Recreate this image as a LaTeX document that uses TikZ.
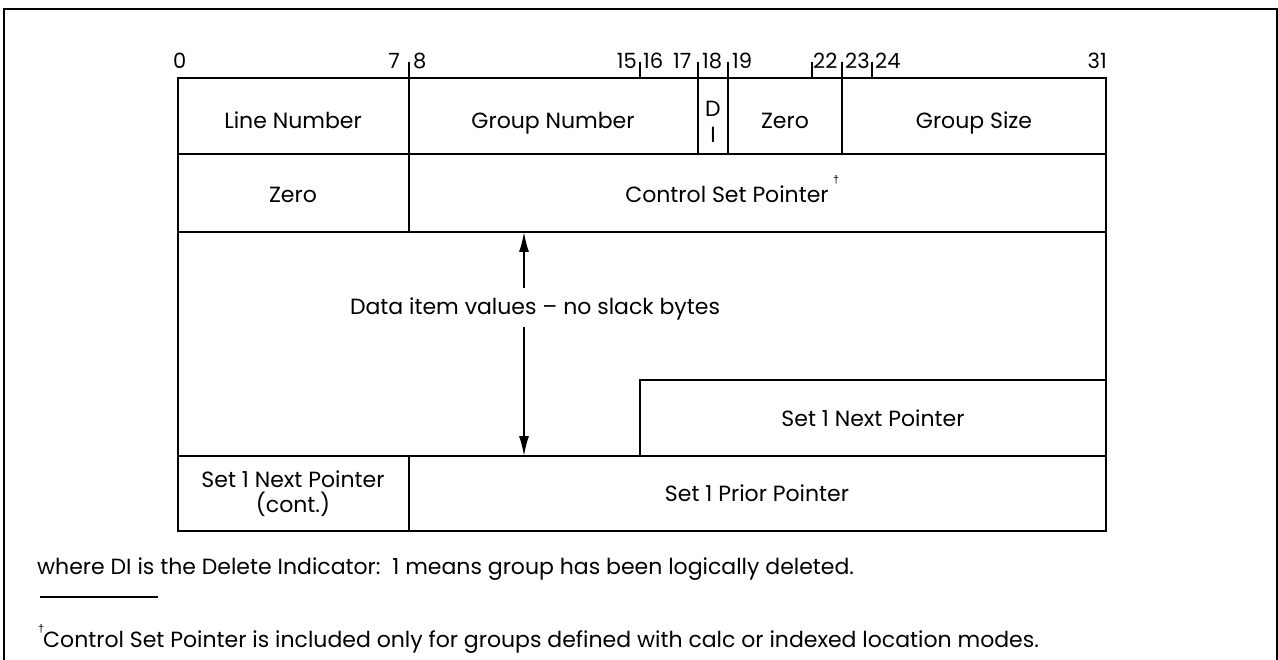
\documentclass[tikz,border=0pt]{standalone}
\usepackage{fontspec}
\setmainfont{Poppins}
\newfontfamily\dagfont{Liberation Sans}
\usetikzlibrary{arrows.meta}
\begin{document}
\begin{tikzpicture}[x=1pt,y=-1pt,
  frame/.style={line width=2.6pt},
  rule/.style={line width=2pt},
  tick/.style={line width=1.6pt},
  lbl/.style={inner sep=0pt, anchor=base, font=\fontsize{22}{25}\selectfont},
  num/.style={inner sep=0pt, font=\fontsize{21}{24}\selectfont},
  note/.style={inner sep=0pt, anchor=base west, font=\fontsize{22}{26}\selectfont},
  dag/.style={inner sep=0pt, font=\dagfont\fontsize{11}{11}\selectfont},
  arr/.style={line width=1.6pt, -{Latex[length=20pt,width=10pt]}},
]
\useasboundingbox (0,0) rectangle (1278,660);
% outer frame
\draw[frame] (4,664) -- (4,9) -- (1277,9) -- (1277,664);
% table
\draw[rule] (178,78) rectangle (1106,531);
\draw[rule] (178,154) -- (1106,154);
\draw[rule] (178,232) -- (1106,232);
\draw[rule] (178,456) -- (1106,456);
\draw[rule] (409,78) -- (409,232);
\draw[rule] (409,456) -- (409,531);
\draw[rule] (698,78) -- (698,154);
\draw[rule] (728,78) -- (728,154);
\draw[rule] (842,78) -- (842,154);
\draw[rule] (640,456) -- (640,380) -- (1106,380);
% ticks
\foreach \x in {409,640,698,728,812,842,872} \draw[tick] (\x,62) -- (\x,78);
% bit numbers
\node[num, anchor=base west] (b0)  at (173,69) {0};
\node[num, anchor=base east] (b7)  at (400,69) {7};
\node[num, anchor=base west] (b8)  at (413,69) {8};
\node[num, anchor=base east] (b15) at (637,69) {15};
\node[num, anchor=base west] (b16) at (643,69) {16};
\node[num, anchor=base west] (b17) at (673,69) {17};
\node[num, anchor=base west] (b18) at (702,69) {18};
\node[num, anchor=base west] (b19) at (732,69) {19};
\node[num, anchor=base west] (b22) at (813,69) {22};
\node[num, anchor=base west] (b23) at (845,69) {23};
\node[num, anchor=base west] (b24) at (875,69) {24};
\node[num, anchor=base east] (b31) at (1107,69) {31};
% row 1
\node[lbl] (line) at (293,129) {Line Number};
\node[lbl] (grp)  at (553,129) {Group Number};
\node[lbl] (d)    at (713,117) {D};
\node[lbl] (i)    at (713,143) {I};
\node[lbl] (zero1) at (785,129) {Zero};
\node[lbl] (gsize) at (974,129) {Group Size};
% row 2
\node[lbl] (zero2) at (293,203) {Zero};
\node[lbl] (csp) at (727,203) {Control Set Pointer};
\node[dag, anchor=south west] (cspm) at (833,184) {†};
% data area
\node[lbl] (data) at (535,315) {Data item values – no slack bytes};
\coordinate (atop) at (524,232);
\coordinate (abot) at (524,456);
\coordinate (aup) at (524,288);
\coordinate (adn) at (524,327);
\draw[arr] (aup) -- (atop);
\draw[arr] (adn) -- (abot);
\node[lbl] (next) at (873,426) {Set 1 Next Pointer};
% last row
\node[lbl] (nextc1) at (293,487) {Set 1 Next Pointer};
\node[lbl] (nextc2) at (293,512) {(cont.)};
\node[lbl] (prior) at (757,501) {Set 1 Prior Pointer};
% notes
\node[note] (where) at (37,574) {where DI is the Delete Indicator:\ \ 1 means group has been logically deleted.};
\draw[line width=1.6pt] (40,597) -- (158,597);
\node[dag, anchor=south west] (fm) at (38,633) {†};
\node[note] (foot) at (43,647) {Control Set Pointer is included only for groups defined with calc or indexed location modes.};
\end{tikzpicture}
\end{document}
